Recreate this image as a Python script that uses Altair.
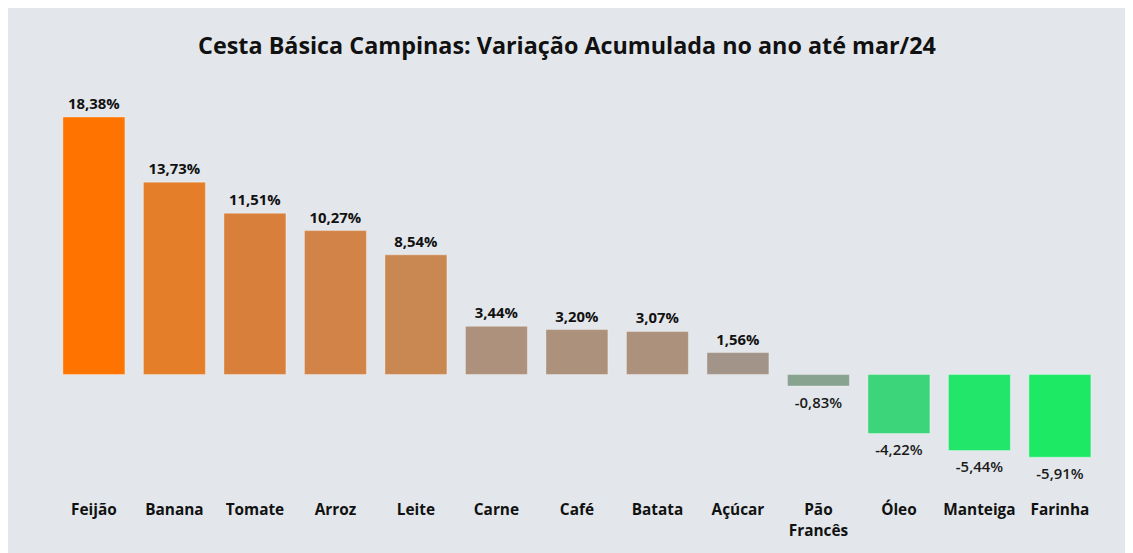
import altair as alt
import pandas as pd

produtos = ["Feijão", "Banana", "Tomate", "Arroz", "Leite", "Carne", "Café",
            "Batata", "Açúcar", "Pão Francês", "Óleo", "Manteiga", "Farinha"]
variacao = [18.38, 13.73, 11.51, 10.27, 8.54, 3.44, 3.20, 3.07, 1.56,
            -0.83, -4.22, -5.44, -5.91]
cores = ["#ff7400", "#e57e28", "#d8803b", "#d28448", "#c98752", "#ad917c",
         "#ac917c", "#ac917d", "#a3948a", "#88a390", "#3cd579", "#22e66a",
         "#1de965"]
titulo = "Cesta Básica Campinas: Variação Acumulada no ano até mar/24"

df = pd.DataFrame({"produto": produtos, "valor": variacao})
df["rotulo"] = df["valor"].map(lambda v: f"{v:.2f}%".replace(".", ","))

FONT = "Open Sans"

x = alt.X("produto:N", sort=produtos,
          scale=alt.Scale(paddingInner=0.23, paddingOuter=0.115),
          axis=alt.Axis(title=None, labelAngle=0, domain=False, ticks=False,
                        grid=False, labelFont=FONT, labelFontSize=15.5,
                        labelFontWeight="bold", labelColor="#111111",
                        labelPadding=9, labelLineHeight=21,
                        labelExpr="datum.label == 'Pão Francês' ? ['Pão', 'Francês'] : datum.label"))
y = alt.Y("valor:Q", scale=alt.Scale(domain=[-8.5, 20], nice=False, zero=True),
          axis=None)

base = alt.Chart(df).encode(x=x, y=y)

bars = base.mark_bar(stroke="white", strokeOpacity=0.35, strokeWidth=1).encode(
    color=alt.Color("produto:N", scale=alt.Scale(domain=produtos, range=cores),
                    legend=None)
)

pos = base.transform_filter("datum.valor >= 0").mark_text(
    font=FONT, fontSize=15, fontWeight="bold", color="#111111",
    baseline="middle", dy=-13
).encode(text="rotulo:N")

neg = base.transform_filter("datum.valor < 0").mark_text(
    font=FONT, fontSize=15, fontWeight=600, color="#1a1a1a",
    baseline="middle", dy=17
).encode(text="rotulo:N")

chart = alt.layer(bars, pos, neg).properties(
    width=1054, height=402,
    title=alt.TitleParams(titulo, font=FONT, fontSize=23.5, fontWeight="bold",
                          color="#111111", anchor="middle", offset=36, dx=-10),
    background="#e3e7eb",
    padding={"left": 46, "top": 85, "right": 25, "bottom": 58},
    autosize=alt.AutoSizeParams(type="none"),
).configure_view(stroke=None)

chart.save("out.html", embed_options={"renderer": "svg", "actions": False})
